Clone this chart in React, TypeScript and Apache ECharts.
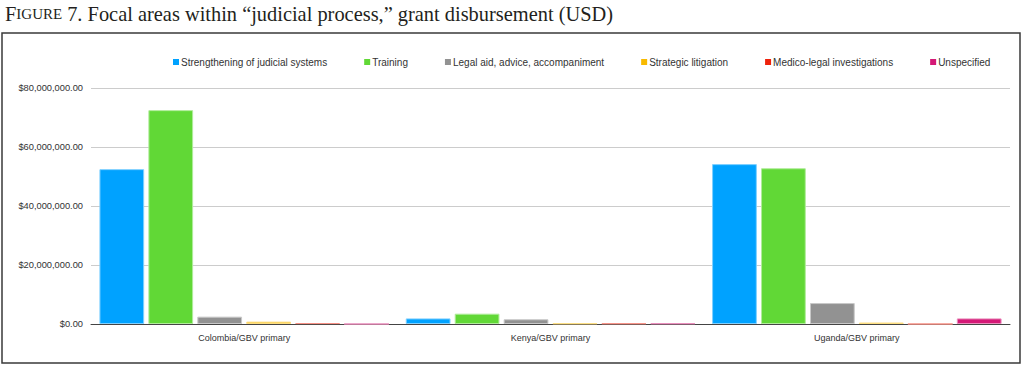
import React, { useEffect, useRef } from "react";
import * as echarts from "echarts";

const categories = ["Colombia/GBV primary", "Kenya/GBV primary", "Uganda/GBV primary"];
const seriesNames = [
  "Strengthening of judicial systems",
  "Training",
  "Legal aid, advice, accompaniment",
  "Strategic litigation",
  "Medico-legal investigations",
  "Unspecified",
];
const strengthening = [52500000, 1900000, 54200000];
const training = [72500000, 3500000, 52800000];
const legalAid = [2500000, 1600000, 7100000];
const strategic = [800000, 200000, 500000];
const medico = [300000, 200000, 0];
const unspecified = [0, 200000, 1900000];
const yTicks = { min: 0, max: 80000000, interval: 20000000 };

const colors = ["#00A2FF", "#61D836", "#929292", "#F8BA00", "#EE220C", "#D41876"];
const borders = ["#7FD0FF", "#B0EC9A", "#C8C8C8", "#FCDD80", "#F69085", "#E98BBA"];

export default function App() {
  const ref = useRef<HTMLDivElement>(null);
  useEffect(() => {
    if (!ref.current) return;
    const chart = echarts.init(ref.current, null, { renderer: "svg" });
    const values = [strengthening, training, legalAid, strategic, medico, unspecified];
    const fmt = (v: number) =>
      "$" + v.toLocaleString("en-US", { minimumFractionDigits: 2, maximumFractionDigits: 2 });
    chart.setOption({
      animation: false,
      color: colors,
      textStyle: { fontFamily: "Liberation Sans, Arial, sans-serif" },
      title: {
        left: 0,
        top: -1,
        text: "{a|F}{b|IGURE} {a|7. Focal areas within \u201Cjudicial process,\u201D grant disbursement (USD)}",
        textStyle: {
          fontWeight: "normal",
          rich: {
            a: { fontFamily: "Liberation Serif, serif", fontSize: 20.4, fontWeight: "normal", color: "#231F20" },
            b: { fontFamily: "Liberation Serif, serif", fontSize: 15, fontWeight: "normal", color: "#231F20" },
          },
        },
      },
      graphic: [
        {
          type: "rect",
          shape: { x: 2, y: 33, width: 1018, height: 330 },
          style: { fill: "none", stroke: "#3a3a3a", lineWidth: 1.5 },
          silent: true,
        },
      ],
      legend: {
        left: 168,
        top: 52,
        itemWidth: 6,
        itemHeight: 6,
        itemGap: 37,
        icon: "rect",
        itemStyle: { borderWidth: 0 },
        textStyle: { fontSize: 10, color: "#333", padding: [0, 0, 0, -3] },
        data: seriesNames,
      },
      grid: { left: 91, right: 14, top: 88, bottom: 42, containLabel: false },
      xAxis: {
        type: "category",
        data: categories,
        axisTick: { show: false },
        axisLine: { lineStyle: { color: "#444", width: 1 } },
        axisLabel: { fontSize: 9, color: "#333", margin: 9 },
      },
      yAxis: {
        type: "value",
        min: yTicks.min,
        max: yTicks.max,
        interval: yTicks.interval,
        axisLine: { show: false },
        axisTick: { show: false },
        axisLabel: { fontSize: 9.3, color: "#333", margin: 8, formatter: fmt },
        splitLine: { lineStyle: { color: "#cccccc", width: 1 } },
      },
      series: seriesNames.map((name, i) => ({
        name,
        type: "bar",
        data: values[i],
        barGap: "9.4%",
        barCategoryGap: "5.5%",
        itemStyle: { color: colors[i], borderColor: borders[i], borderWidth: 1 },
      })),
    });
    return () => chart.dispose();
  }, []);
  return (
    <div
      ref={ref}
      style={{ position: "fixed", left: 0, top: 0, width: 1024, height: 366, background: "#fff" }}
    />
  );
}
